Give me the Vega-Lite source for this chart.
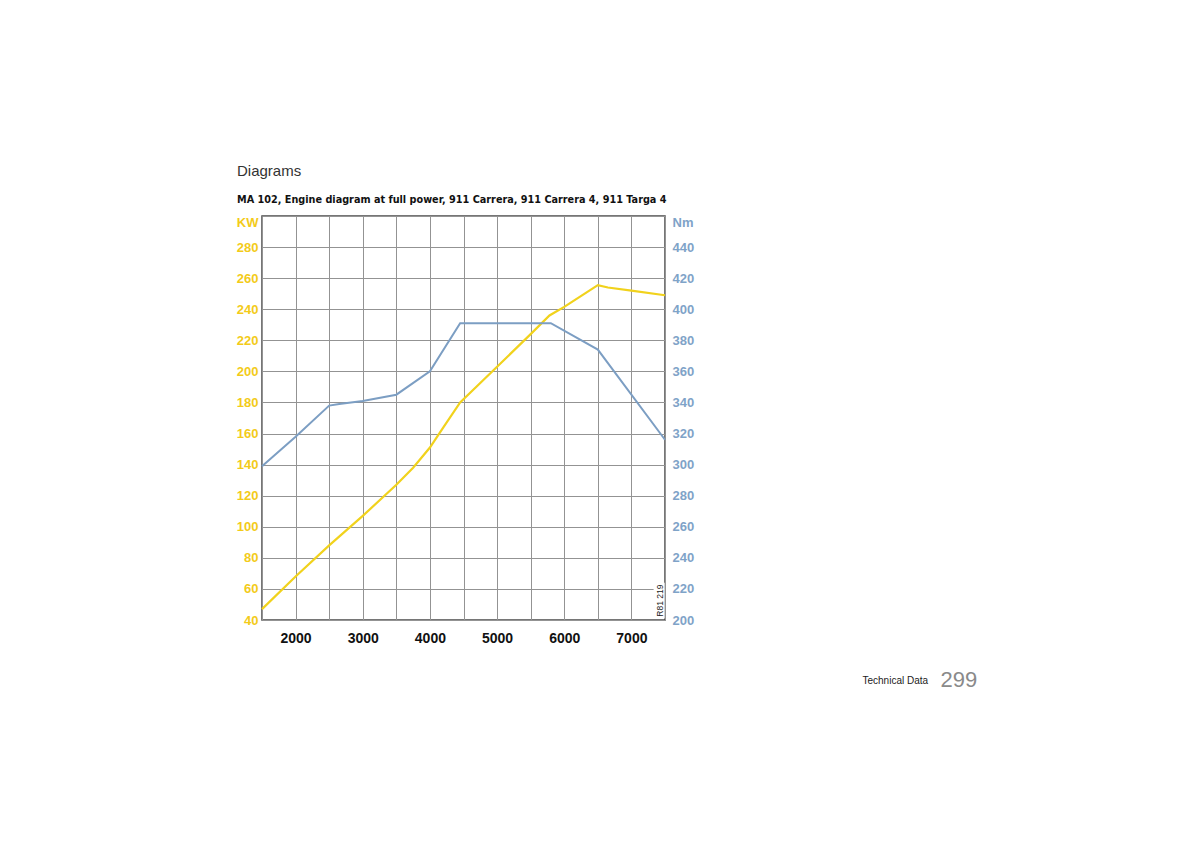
{
  "$schema": "https://vega.github.io/schema/vega-lite/v6.json",
  "width": 403,
  "height": 404,
  "autosize": "none",
  "padding": {"left": 262, "top": 216, "right": 535, "bottom": 228},
  "background": "white",
  "title": {
    "text": "Diagrams",
    "subtitle": "MA 102, Engine diagram at full power, 911 Carrera, 911 Carrera 4, 911 Targa 4",
    "anchor": "start",
    "frame": "group",
    "dx": -25,
    "offset": 11,
    "font": "Liberation Sans",
    "fontSize": 15,
    "fontWeight": "normal",
    "color": "#333333",
    "subtitleFont": "DejaVu Sans",
    "subtitleFontSize": 9.7,
    "subtitleFontWeight": "bold",
    "subtitleColor": "#111111",
    "subtitlePadding": 16
  },
  "config": {
    "view": {"stroke": "#4a4a4a", "strokeWidth": 1.5},
    "axis": {"labelFont": "Liberation Sans", "titleFont": "Liberation Sans"}
  },
  "datasets": {
    "power": [
      {"rpm": 1500, "kw": 47},
      {"rpm": 2000, "kw": 68},
      {"rpm": 2500, "kw": 88},
      {"rpm": 3000, "kw": 107},
      {"rpm": 3500, "kw": 127},
      {"rpm": 3750, "kw": 138},
      {"rpm": 4000, "kw": 151},
      {"rpm": 4200, "kw": 164},
      {"rpm": 4450, "kw": 180},
      {"rpm": 5000, "kw": 203},
      {"rpm": 5500, "kw": 224},
      {"rpm": 5780, "kw": 236},
      {"rpm": 6000, "kw": 241.5},
      {"rpm": 6500, "kw": 255.5},
      {"rpm": 6650, "kw": 254},
      {"rpm": 7000, "kw": 252},
      {"rpm": 7500, "kw": 249}
    ],
    "torque": [
      {"rpm": 1500, "nm": 299},
      {"rpm": 2000, "nm": 318},
      {"rpm": 2500, "nm": 338},
      {"rpm": 2650, "nm": 339},
      {"rpm": 3000, "nm": 341},
      {"rpm": 3500, "nm": 345},
      {"rpm": 4000, "nm": 360},
      {"rpm": 4450, "nm": 391},
      {"rpm": 5800, "nm": 391},
      {"rpm": 6500, "nm": 374},
      {"rpm": 7500, "nm": 316}
    ],
    "code": [
      {"rpm": 7420, "kw": 52.5, "rpm_lo": 7330, "rpm_hi": 7495, "kw_lo": 41, "kw_hi": 64, "label": "R81 219"}
    ]
  },
  "layer": [
    {
      "encoding": {
        "x": {
          "type": "quantitative",
          "scale": {"domain": [1500, 7500], "nice": false, "zero": false},
          "axis": {
            "orient": "bottom",
            "values": [1500, 2000, 2500, 3000, 3500, 4000, 4500, 5000, 5500, 6000, 6500, 7000, 7500],
            "format": "d",
            "labelExpr": "datum.value % 1000 == 0 ? datum.label : ''",
            "labelOverlap": false,
            "grid": true, "gridColor": "#939393", "gridWidth": 1,
            "ticks": false, "domain": false,
            "labelFontWeight": "bold", "labelFontSize": 14, "labelColor": "#111111", "labelPadding": 11,
            "title": "Technical Data",
            "titleX": 600, "titleY": 63, "titleAlign": "left", "titleBaseline": "alphabetic",
            "titleFontSize": 10, "titleFontWeight": "normal", "titleColor": "#222222"
          }
        },
        "y": {
          "type": "quantitative",
          "scale": {"domain": [40, 300], "nice": false, "zero": false},
          "axis": {
            "orient": "left",
            "values": [40, 60, 80, 100, 120, 140, 160, 180, 200, 220, 240, 260, 280, 300],
            "labelExpr": "datum.value == 300 ? 'KW' : datum.label",
            "labelBaseline": {"condition": {"test": "datum.value == 300", "value": "top"}, "value": "middle"},
            "grid": true, "gridColor": "#939393", "gridWidth": 1,
            "ticks": false, "domain": false,
            "labelFontWeight": "bold", "labelFontSize": 13, "labelColor": "#F3CB1A", "labelPadding": 4,
            "title": null
          }
        }
      },
      "layer": [
        {
          "data": {"name": "code"},
          "mark": {"type": "rect", "color": "white"},
          "encoding": {
            "x": {"field": "rpm_lo"},
            "x2": {"field": "rpm_hi"},
            "y": {"field": "kw_lo"},
            "y2": {"field": "kw_hi"}
          }
        },
        {
          "data": {"name": "power"},
          "mark": {"type": "line", "color": "#F1D21C", "strokeWidth": 2.2},
          "encoding": {
            "x": {"field": "rpm"},
            "y": {"field": "kw"}
          }
        },
        {
          "data": {"name": "code"},
          "mark": {"type": "text", "angle": 270, "font": "Liberation Sans", "fontSize": 8.5, "color": "#222222"},
          "encoding": {
            "x": {"field": "rpm"},
            "y": {"field": "kw"},
            "text": {"field": "label"}
          }
        }
      ]
    },
    {
      "data": {"name": "torque"},
      "mark": {"type": "line", "color": "#7C9EC3", "strokeWidth": 2},
      "encoding": {
        "x": {
          "field": "rpm", "type": "quantitative",
          "scale": {"domain": [1500, 7500], "nice": false, "zero": false},
          "axis": {
            "orient": "bottom",
            "values": [],
            "labels": false, "ticks": false, "domain": false, "grid": false,
            "title": "299",
            "titleX": 678, "titleY": 66, "titleAlign": "left", "titleBaseline": "alphabetic",
            "titleFontSize": 22, "titleFontWeight": "normal", "titleColor": "#8a8a8a"
          }
        },
        "y": {
          "field": "nm", "type": "quantitative",
          "scale": {"domain": [200, 460], "nice": false, "zero": false},
          "axis": {
            "orient": "right",
            "values": [200, 220, 240, 260, 280, 300, 320, 340, 360, 380, 400, 420, 440, 460],
            "labelExpr": "datum.value == 460 ? 'Nm' : datum.label",
            "labelBaseline": {"condition": {"test": "datum.value == 460", "value": "top"}, "value": "middle"},
            "grid": false, "ticks": false, "domain": false,
            "labelFontWeight": "bold", "labelFontSize": 13, "labelColor": "#7FA3C8", "labelPadding": 7,
            "title": null
          }
        }
      }
    }
  ],
  "resolve": {"scale": {"y": "independent"}, "axis": {"x": "independent"}}
}
